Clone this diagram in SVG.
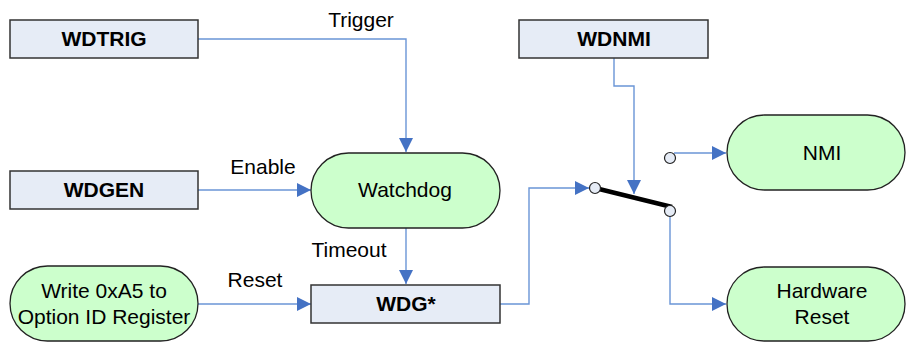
<svg xmlns="http://www.w3.org/2000/svg" width="907" height="342" viewBox="0 0 907 342">
<style>
.box{fill:#E6ECF6;stroke:#333;stroke-width:1.5}
.term{fill:#CCFFCC;stroke:#222;stroke-width:1.3}
.b{font-family:"Liberation Sans",Arial,sans-serif;font-size:21px;font-weight:bold;fill:#000;text-anchor:middle}
.t{font-family:"Liberation Sans",Arial,sans-serif;font-size:21px;fill:#000;text-anchor:middle}
.c{fill:none;stroke:#6A95D6;stroke-width:1.4}
.dot{fill:#E6ECF6;stroke:#222;stroke-width:1.2}
</style>
<defs>
<marker id="ar" markerUnits="userSpaceOnUse" markerWidth="15" markerHeight="15" refX="14" refY="7" orient="auto">
<path d="M0,0 L14,7 L0,14 z" fill="#4472C4"/>
</marker>
</defs>
<rect width="907" height="342" fill="#fff"/>
<g id="connectors">
<polyline class="c" points="198,39 406,39 406,152" marker-end="url(#ar)"/>
<text class="t" x="361" y="27">Trigger</text>
<polyline class="c" points="198,190 311,190" marker-end="url(#ar)"/>
<text class="t" x="263" y="174">Enable</text>
<polyline class="c" points="406,228 406,284" marker-end="url(#ar)"/>
<text class="t" x="349" y="257">Timeout</text>
<polyline class="c" points="198,304 311,304" marker-end="url(#ar)"/>
<text class="t" x="255" y="287">Reset</text>
<polyline class="c" points="500,304 529,304 529,188 589,188" marker-end="url(#ar)"/>
<polyline class="c" points="614,58 614,86 634,86 634,194" marker-end="url(#ar)"/>
<polyline class="c" points="670,216 670,304 726,304" marker-end="url(#ar)"/>
<polyline class="c" points="674,153 726,153" marker-end="url(#ar)"/>
</g>
<g id="switch">
<line x1="595" y1="188" x2="672" y2="207" stroke="#000" stroke-width="4.5"/>
<circle class="dot" cx="595" cy="188" r="5.5"/>
<circle class="dot" cx="670" cy="211" r="5.5"/>
<circle class="dot" cx="670" cy="158" r="5.5"/>
</g>
<g id="WDTRIG">
<rect class="box" x="10" y="20" width="188" height="38"/>
<text class="b" x="104" y="46">WDTRIG</text>
</g>
<g id="WDGEN">
<rect class="box" x="10" y="171" width="188" height="38"/>
<text class="b" x="104" y="197">WDGEN</text>
</g>
<g id="Watchdog">
<rect class="term" x="311" y="153" width="189" height="75" rx="37.5"/>
<text class="t" x="405" y="197">Watchdog</text>
</g>
<g id="WDG">
<rect class="box" x="311" y="285" width="189" height="38"/>
<text class="b" x="406" y="311">WDG*</text>
</g>
<g id="Write">
<rect class="term" x="10" y="266" width="188" height="75" rx="37.5"/>
<text class="t" x="104" y="298">Write 0xA5 to</text>
<text class="t" x="104" y="324">Option ID Register</text>
</g>
<g id="WDNMI">
<rect class="box" x="519" y="20" width="189" height="38"/>
<text class="b" x="614" y="46">WDNMI</text>
</g>
<g id="NMI">
<rect class="term" x="727" y="115" width="178" height="75" rx="37.5"/>
<text class="t" x="822" y="160">NMI</text>
</g>
<g id="HardwareReset">
<rect class="term" x="727" y="267" width="178" height="74" rx="37"/>
<text class="t" x="822" y="298">Hardware</text>
<text class="t" x="822" y="324">Reset</text>
</g>
</svg>
